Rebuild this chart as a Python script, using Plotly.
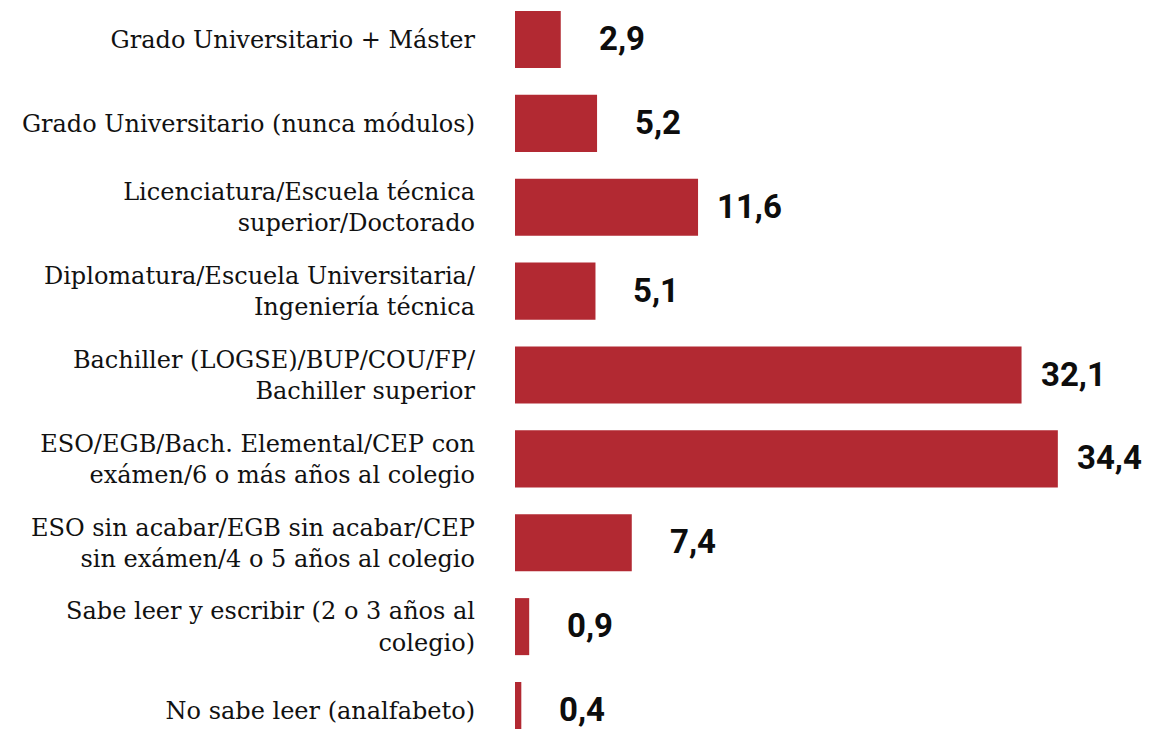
import plotly.graph_objects as go

categories = [
    "Grado Universitario + Máster",
    "Grado Universitario (nunca módulos)",
    "Licenciatura/Escuela técnica<br>superior/Doctorado",
    "Diplomatura/Escuela Universitaria/<br>Ingeniería técnica",
    "Bachiller (LOGSE)/BUP/COU/FP/<br>Bachiller superior",
    "ESO/EGB/Bach. Elemental/CEP con<br>exámen/6 o más años al colegio",
    "ESO sin acabar/EGB sin acabar/CEP<br>sin exámen/4 o 5 años al colegio",
    "Sabe leer y escribir (2 o 3 años al<br>colegio)",
    "No sabe leer (analfabeto)",
]
values = [2.9, 5.2, 11.6, 5.1, 32.1, 34.4, 7.4, 0.9, 0.4]
value_labels = [f"{v:.1f}".replace(".", ",") for v in values]

BAR_COLOR = "#b22932"

fig = go.Figure()
fig.add_trace(go.Bar(
    x=values,
    y=categories,
    orientation="h",
    marker=dict(color=BAR_COLOR, line=dict(width=0)),
    width=0.68,
    hoverinfo="skip",
))

for v, c, t in zip(values, categories, value_labels):
    fig.add_annotation(
        x=v, y=c, text=t, showarrow=False,
        xanchor="right", yanchor="middle", xshift=86, yshift=1,
        font=dict(family="Roboto", size=33, color="#0d0d0d", weight="bold"),
    )

fig.update_layout(
    width=1142, height=721,
    margin=dict(l=507, r=0, t=0, b=0),
    paper_bgcolor="white", plot_bgcolor="white",
    showlegend=False,
    xaxis=dict(range=[0, 40.24], visible=False, fixedrange=True),
    yaxis=dict(
        type="category",
        categoryorder="array", categoryarray=categories,
        range=[8.2206, -0.3756],
        showgrid=False, zeroline=False, showline=False,
        ticks="", ticklabelstandoff=39,
        tickfont=dict(family="DejaVu Serif", size=24, color="#111111"),
        fixedrange=True,
    ),
)

fig.write_html("out.html")
